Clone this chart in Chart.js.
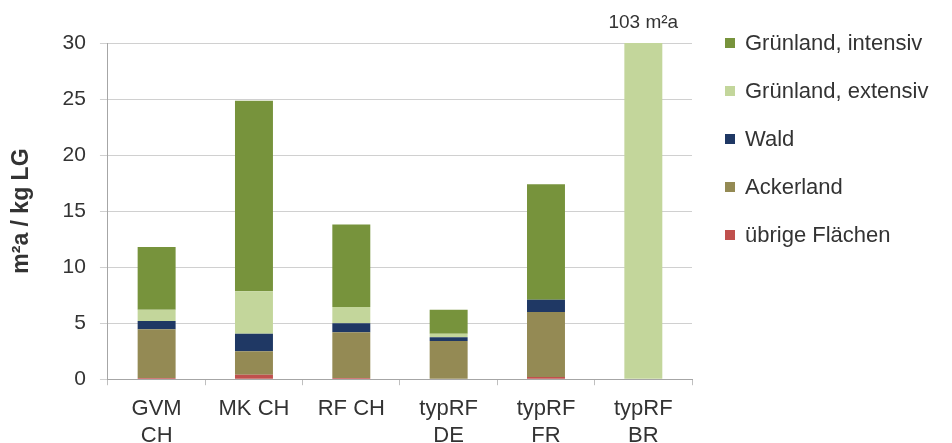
<!DOCTYPE html>
<html>
<head>
<meta charset="utf-8">
<script src="https://cdn.jsdelivr.net/npm/chart.js@4"></script>
<style>
  html, body { margin: 0; padding: 0; background: #fff; }
  #wrap { width: 952px; height: 443px; }
</style>
</head>
<body>
<div id="wrap"><canvas id="landChart"></canvas></div>
<script>
// Categories (x axis), two-line labels like the original
const categories = [['GVM', 'CH'], 'MK CH', 'RF CH', ['typRF', 'DE'], ['typRF', 'FR'], ['typRF', 'BR']];

// Series values in m²a / kg LG, bottom of the stack first
const uebrigeFlaechen = [0.1, 0.4, 0.1, 0.05, 0.2, 0];
const ackerland = [4.35, 2.1, 4.1, 3.35, 5.8, 0];
const wald = [0.75, 1.55, 0.8, 0.35, 1.1, 0];
const gruenlandExtensiv = [1.0, 3.8, 1.45, 0.3, 0, 103];
const gruenlandIntensiv = [5.6, 17.0, 7.35, 2.15, 10.3, 0];

const yTicks = [0, 5, 10, 15, 20, 25, 30];
const yMax = 30;

const textColor = '#333333';

// labels values that run past the top of the axis (103 m²a)
const overflowLabels = {
    id: 'overflowLabels',
    afterDatasetsDraw(chart) {
        const ctx = chart.ctx;
        const area = chart.chartArea;
        chart.data.datasets.forEach((ds, i) => {
            const meta = chart.getDatasetMeta(i);
            ds.data.forEach((v, j) => {
                if (v > yMax) {
                    const bar = meta.data[j];
                    ctx.save();
                    ctx.fillStyle = textColor;
                    ctx.font = '19px "Liberation Sans", Arial, sans-serif';
                    ctx.textAlign = 'center';
                    ctx.textBaseline = 'alphabetic';
                    ctx.fillText(v + ' m²a', bar.x, area.top - 15);
                    ctx.restore();
                }
            });
        });
    }
};

// legend on the right, top item first
const sideLegend = {
    id: 'sideLegend',
    afterDraw(chart) {
        const ctx = chart.ctx;
        const datasets = chart.data.datasets.slice().reverse();
        ctx.save();
        ctx.font = '22px "Liberation Sans", Arial, sans-serif';
        ctx.textBaseline = 'middle';
        ctx.textAlign = 'left';
        datasets.forEach((ds, i) => {
            const y = 43 + i * 48;
            ctx.fillStyle = ds.backgroundColor;
            ctx.fillRect(725, y - 5, 10, 10);
            ctx.fillStyle = textColor;
            ctx.fillText(ds.label, 745, y + 1);
        });
        ctx.restore();
    }
};

const ctx = document.getElementById('landChart').getContext('2d');

const landChart = new Chart(ctx, {
    type: 'bar',
    data: {
        labels: categories,
        datasets: [
            { label: 'übrige Flächen', data: uebrigeFlaechen, backgroundColor: '#c0504d' },
            { label: 'Ackerland', data: ackerland, backgroundColor: '#948a54' },
            { label: 'Wald', data: wald, backgroundColor: '#1f3864' },
            { label: 'Grünland, extensiv', data: gruenlandExtensiv, backgroundColor: '#c3d69b' },
            { label: 'Grünland, intensiv', data: gruenlandIntensiv, backgroundColor: '#77933c' }
        ]
    },
    options: {
        responsive: true,
        maintainAspectRatio: false,
        animation: false,
        layout: {
            padding: { top: 43, right: 260, bottom: -17, left: 0 }
        },
        datasets: {
            bar: {
                categoryPercentage: 1,
                barPercentage: 0.39,
                borderWidth: 0
            }
        },
        plugins: {
            legend: { display: false },
            tooltip: { enabled: false }
        },
        scales: {
            x: {
                stacked: true,
                grid: {
                    offset: true,
                    drawOnChartArea: false,
                    drawTicks: true,
                    tickLength: 6,
                    color: '#bfbfbf'
                },
                border: { color: '#a6a6a6' },
                ticks: {
                    color: textColor,
                    padding: 11,
                    maxRotation: 0,
                    autoSkip: false,
                    font: { family: '"Liberation Sans", Arial, sans-serif', size: 22, lineHeight: 1.2 }
                }
            },
            y: {
                stacked: true,
                min: 0,
                max: yMax,
                afterBuildTicks: (scale) => {
                    scale.ticks = yTicks.map(v => ({ value: v }));
                },
                grid: {
                    color: '#d0d0d0',
                    tickLength: 8
                },
                border: { color: '#a6a6a6' },
                ticks: {
                    color: textColor,
                    padding: 14,
                    font: { family: '"Liberation Sans", Arial, sans-serif', size: 21 }
                },
                title: {
                    display: true,
                    text: 'm²a / kg LG',
                    color: textColor,
                    padding: { top: 8, bottom: 13 },
                    font: { family: '"Liberation Sans", Arial, sans-serif', size: 23, weight: 'bold', lineHeight: 1.2 }
                }
            }
        }
    },
    plugins: [overflowLabels, sideLegend]
});
</script>
</body>
</html>
